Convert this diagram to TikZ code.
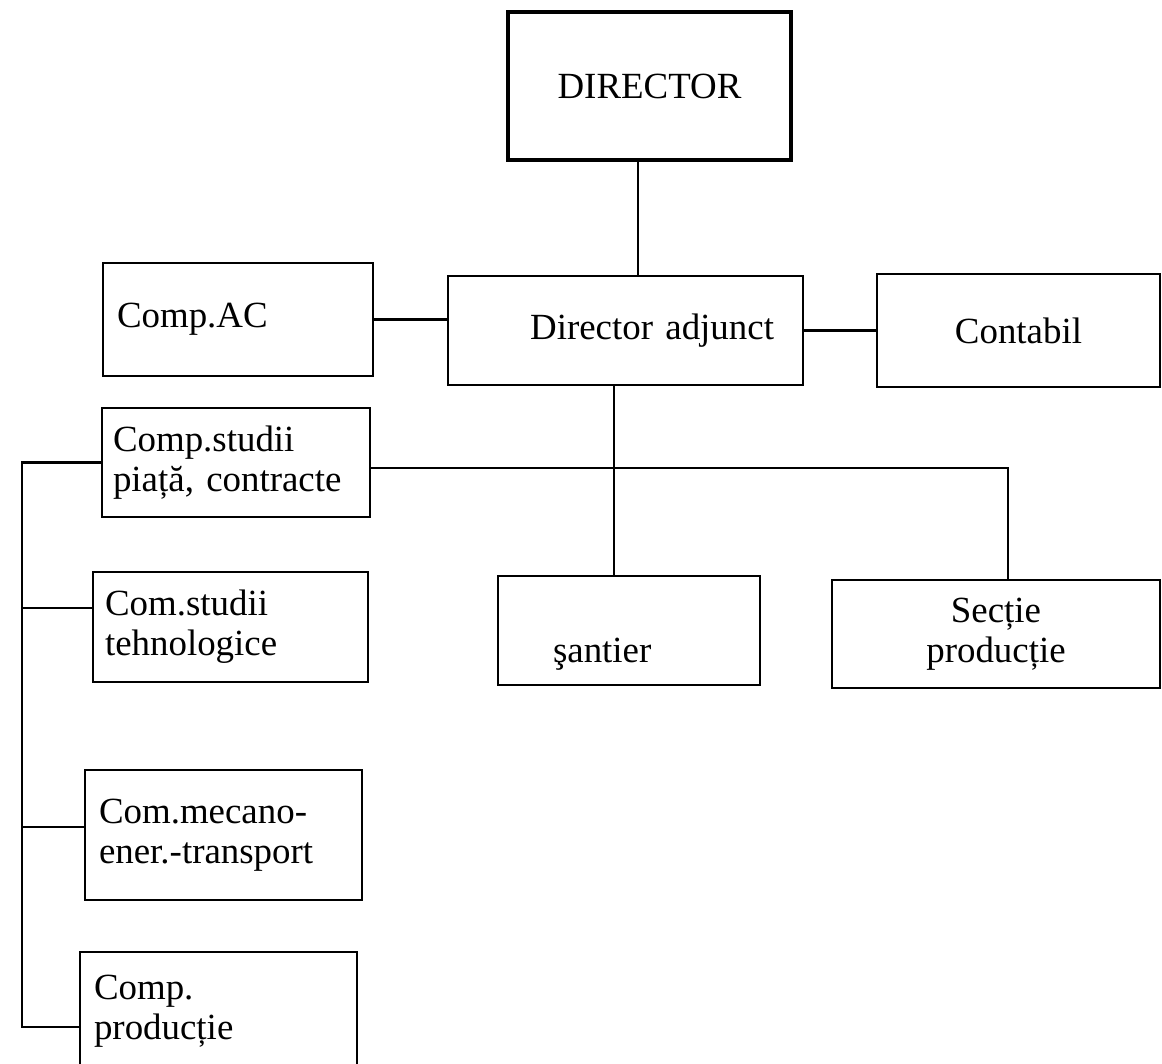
\documentclass[tikz,border=0pt]{standalone}
\usepackage{fontspec}
\setmainfont{Liberation Serif}
\newcommand{\boxfont}{\fontsize{21}{22.8}\selectfont}
\begin{document}
\begin{tikzpicture}[x=0.02cm,y=-0.02cm,
  box/.style={draw, rectangle, line width=1.35pt, inner sep=0pt, font=\boxfont},
  conn/.style={line width=1.25pt}]
\useasboundingbox (0,0) rectangle (1162,1063);
% boxes
\node[box, line width=2.4pt, minimum width=5.66cm, minimum height=2.96cm] (dir) at (649.5,86) {DIRECTOR};
\node[box, minimum width=7.1cm, minimum height=2.18cm, inner xsep=0.58cm, text width=5.94cm, align=right] (adj) at (625.5,330.5) {Director adjunct};
\node[box, minimum width=5.4cm, minimum height=2.26cm, inner xsep=0.28cm, text width=4.84cm, align=left] (ac) at (238,319.5) {Comp.AC};
\node[box, minimum width=5.66cm, minimum height=2.26cm, align=center] (cont) at (1018.5,330.5) {Contabil};
\node[box, minimum width=5.36cm, minimum height=2.18cm, inner xsep=0.22cm, text width=4.92cm, align=left] (csp) at (236,462.5) {Comp.studii\\piață, contracte};
\node[box, minimum width=5.5cm, minimum height=2.2cm, inner xsep=0.24cm, text width=5.02cm, align=left] (cst) at (230.5,627) {Com.studii\\tehnologice};
\node[box, minimum width=5.54cm, minimum height=2.6cm, inner xsep=0.28cm, text width=4.98cm, align=left] (cmt) at (223.5,835) {Com.mecano-\\ener.-transport};
\node[box, minimum width=5.54cm, minimum height=2.36cm, inner xsep=0.28cm, text width=4.98cm, align=left] (cpr) at (218.5,1011) {Comp.\\producție};
\node[box, minimum width=5.24cm, minimum height=2.18cm, inner xsep=1.1cm, text width=3.04cm, align=left, text height=1.26cm, text depth=0pt] (sant) at (629,630.5) {şantier};
\node[box, minimum width=6.56cm, minimum height=2.16cm, align=center] (sec) at (996,634) {Secție\\producție};
% helper coordinates
\coordinate (vx1) at (638,0);
\coordinate (vx2) at (614,0);
\coordinate (vx3) at (1008,0);
\coordinate (hy) at (0,468);
\coordinate (bx) at (22,0);
\coordinate (b2) at (0,608);
\coordinate (b3) at (0,827);
\coordinate (b4) at (0,1027);
% connectors
\draw[conn] (dir.south -| vx1) -- (adj.north -| vx1);
\draw[conn] (ac.east) -- (ac.east -| adj.west);
\draw[conn] (adj.east) -- (adj.east -| cont.west);
\draw[conn] (adj.south -| vx2) -- (sant.north -| vx2);
\draw[conn] (csp.east |- hy) -| (sec.north -| vx3);
\draw[conn] (csp.west) -- (bx |- csp.west) -- (bx |- b4) -- (cpr.west |- b4);
\draw[conn] (bx |- b2) -- (cst.west |- b2);
\draw[conn] (bx |- b3) -- (cmt.west |- b3);
\end{tikzpicture}
\end{document}
